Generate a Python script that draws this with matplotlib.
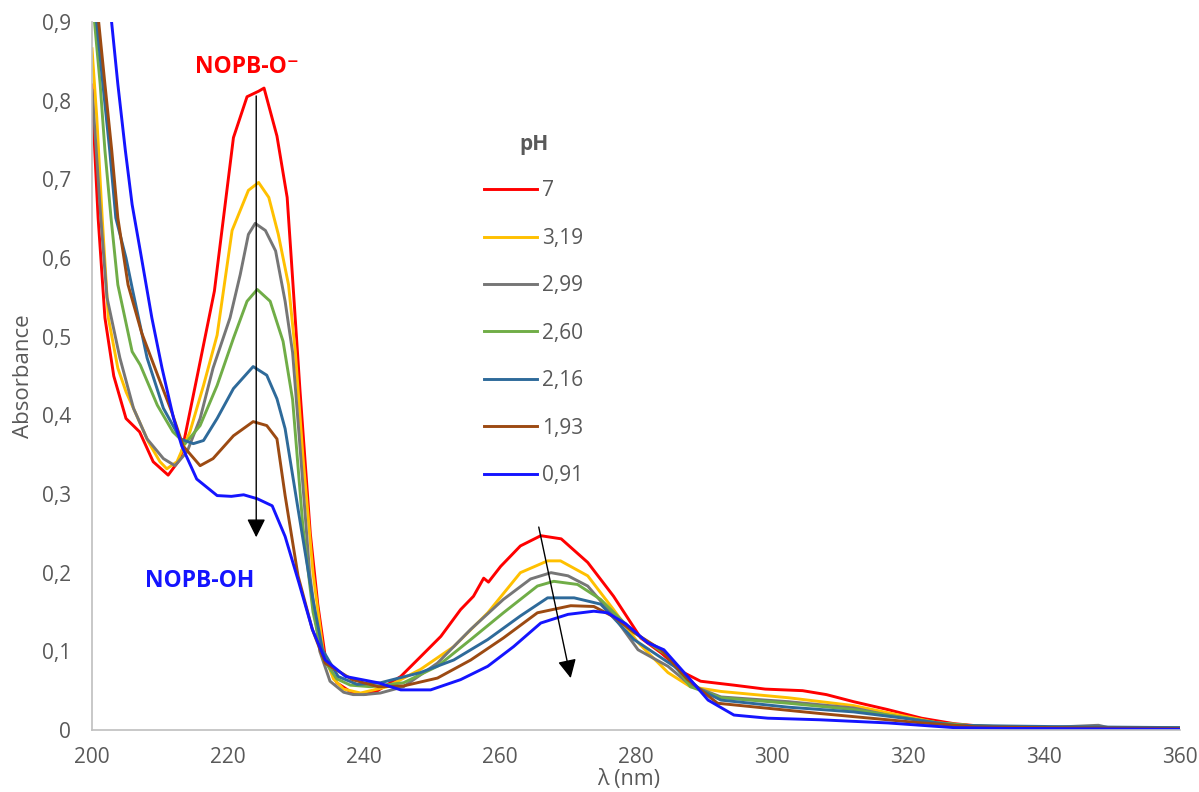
import numpy as np
import matplotlib
matplotlib.use('Agg')
import matplotlib.pyplot as plt
from matplotlib.ticker import FuncFormatter, MultipleLocator

plt.rcParams['font.family'] = ['Open Sans', 'DejaVu Sans']

# pH values of the series (legend order)
ph_labels = ['7', '3,19', '2,99', '2,60', '2,16', '1,93', '0,91']
colors = ['#FF0000', '#FFC000', '#767676', '#70AD47', '#2E6A9A', '#9C4A12', '#1414FF']

# spectra: wavelength (nm) / absorbance
red_wl = [200, 200.4, 200.9, 201.9, 203.2, 205, 207, 209, 211.2, 213, 215.5, 218, 220.8, 222.8,
          224.5, 225.3, 227.2, 228.7, 229.3, 230.6, 232.1, 233.2, 234.3, 236, 238.3, 240, 242,
          245.4, 248.3, 251.3, 254.2, 256.1, 257.6, 258.3, 260.1, 263, 266, 269, 272.9, 276.7,
          280.7, 283.7, 287, 289.5, 294.4, 299, 304.5, 308, 312, 317, 322, 326.8, 331.8, 340, 350, 360]
red_abs = [0.82, 0.737, 0.651, 0.524, 0.45, 0.396, 0.379, 0.341, 0.324, 0.345, 0.451, 0.558, 0.753, 0.805,
           0.812, 0.816, 0.755, 0.677, 0.60, 0.43, 0.25, 0.16, 0.093, 0.06, 0.047, 0.045, 0.05,
           0.068, 0.093, 0.119, 0.153, 0.17, 0.193, 0.188, 0.208, 0.234, 0.247, 0.243, 0.213, 0.17,
           0.117, 0.098, 0.073, 0.062, 0.057, 0.052, 0.05, 0.045, 0.036, 0.026, 0.015, 0.008, 0.004, 0.003, 0.002, 0.002]

yellow_wl = [200, 200.7, 201.5, 202.4, 203.8, 205, 206.3, 208.3, 210, 211, 212.5, 214.4, 216.4, 218.4,
             220.6, 223, 224.5, 226, 227.4, 228.9, 229.9, 231, 232.5, 234, 235.5, 237, 239.5, 243.4,
             248.3, 253.2, 258.2, 263, 267, 268.9, 272.9, 276.7, 280.3, 284.7, 288, 292.5, 302.4,
             312, 317, 324.4, 330, 340, 350, 360]
yellow_abs = [0.866, 0.779, 0.651, 0.524, 0.46, 0.43, 0.405, 0.366, 0.341, 0.332, 0.341, 0.379, 0.438, 0.502,
              0.635, 0.686, 0.696, 0.677, 0.63, 0.566, 0.481, 0.35, 0.2, 0.1, 0.065, 0.052, 0.047, 0.055,
              0.077, 0.106, 0.149, 0.2, 0.215, 0.215, 0.196, 0.153, 0.111, 0.073, 0.055, 0.049, 0.041,
              0.031, 0.022, 0.009, 0.005, 0.003, 0.002, 0.002]

gray_wl = [200, 200.6, 201.3, 202.2, 204.1, 206.1, 208.1, 210.5, 212.2, 214, 215.9, 217.8, 220.3, 221.8,
           223, 224, 225.5, 227, 228.4, 229.5, 230.5, 232, 233.5, 235, 237, 238.4, 240, 242.4, 245.8,
           250.8, 255.7, 260.5, 264.5, 267.5, 270, 272.9, 276.7, 280.3, 284.7, 288, 292.5, 302.4,
           312, 317, 324.4, 330, 340, 348, 350, 360]
gray_abs = [0.813, 0.74, 0.65, 0.55, 0.473, 0.409, 0.37, 0.345, 0.336, 0.354, 0.396, 0.46, 0.524, 0.579,
            0.63, 0.644, 0.635, 0.609, 0.545, 0.48, 0.37, 0.2, 0.1, 0.062, 0.048, 0.045, 0.045, 0.047, 0.055,
            0.085, 0.128, 0.166, 0.192, 0.2, 0.196, 0.183, 0.145, 0.102, 0.081, 0.057, 0.042, 0.036,
            0.028, 0.019, 0.009, 0.005, 0.003, 0.006, 0.002, 0.002]

green_wl = [200, 200.3, 201.2, 201.9, 202.8, 203.8, 205.9, 207.1, 209.6, 211.9, 213.7, 215.9, 218.4, 220.8,
            222.8, 224.3, 226.2, 228.1, 229.5, 231, 232.5, 234, 236, 238, 241, 245.8, 250.8, 255.7,
            260.5, 265.5, 267.9, 271.4, 274.8, 279.7, 284.7, 288, 292.5, 302.4, 312, 317, 324.4,
            330, 340, 350, 360]
green_abs = [0.95, 0.907, 0.821, 0.737, 0.651, 0.566, 0.481, 0.464, 0.413, 0.379, 0.364, 0.387, 0.438, 0.498,
             0.545, 0.56, 0.545, 0.494, 0.42, 0.26, 0.15, 0.09, 0.065, 0.057, 0.055, 0.06, 0.081, 0.115,
             0.149, 0.183, 0.189, 0.185, 0.166, 0.124, 0.094, 0.055, 0.041, 0.034, 0.026, 0.019, 0.009,
             0.005, 0.003, 0.003, 0.003]

dkblue_wl = [200, 200.6, 201.6, 202.6, 203.5, 205, 206, 208.1, 210.5, 213, 214.9, 216.4, 218.4, 220.8,
             223.7, 225.7, 227.2, 228.4, 230.3, 232.4, 233.9, 236.2, 239, 242.4, 248.3, 253.2, 258.2,
             263, 267, 270.9, 274.8, 279.7, 285.6, 289.5, 292.5, 302.4, 312, 319.4, 326.8, 335, 345, 360]
dkblue_abs = [1.0, 0.907, 0.821, 0.737, 0.651, 0.6, 0.558, 0.473, 0.409, 0.37, 0.364, 0.368, 0.396, 0.434,
              0.462, 0.451, 0.421, 0.383, 0.281, 0.17, 0.102, 0.068, 0.058, 0.06, 0.073, 0.089, 0.115,
              0.145, 0.168, 0.168, 0.16, 0.115, 0.081, 0.051, 0.038, 0.029, 0.023, 0.015, 0.006, 0.005, 0.004, 0.003]

brown_wl = [200, 200.9, 201.9, 202.9, 203.8, 205.3, 207.3, 209.7, 211.7, 213.4, 215.9, 217.8, 220.8, 223.7,
            225.7, 227.2, 228.4, 230.3, 232.4, 234.3, 238.3, 242.1, 245.8, 250.8, 255.7, 260.5, 265.5,
            270.4, 273.8, 276.7, 279.7, 283.7, 287.6, 292, 307, 322, 330, 340, 360]
brown_abs = [1.0, 0.907, 0.821, 0.737, 0.651, 0.566, 0.505, 0.45, 0.405, 0.361, 0.336, 0.345, 0.374, 0.392,
             0.387, 0.37, 0.298, 0.196, 0.128, 0.085, 0.064, 0.055, 0.056, 0.066, 0.089, 0.117, 0.149,
             0.158, 0.157, 0.144, 0.124, 0.102, 0.064, 0.034, 0.021, 0.009, 0.004, 0.003, 0.002]

blue_wl = [201.5, 202.8, 203.8, 204.9, 205.9, 207.1, 208.8, 210.3, 212, 213.2, 215.4, 218.4, 220.5, 222.3,
           224.3, 226.5, 228.4, 230.4, 232.4, 234.3, 237.3, 242.1, 245.4, 249.8, 254.2, 258.2, 262, 266,
           270, 273.8, 275.8, 278.5, 281.7, 284.1, 287.6, 290.6, 294.4, 299.4, 307, 317, 326.8, 335, 360]
blue_abs = [1.05, 0.907, 0.821, 0.737, 0.668, 0.609, 0.524, 0.46, 0.396, 0.361, 0.319, 0.298, 0.297, 0.299,
            0.294, 0.285, 0.246, 0.188, 0.128, 0.089, 0.068, 0.06, 0.051, 0.051, 0.064, 0.081, 0.106, 0.136,
            0.147, 0.151, 0.149, 0.135, 0.111, 0.102, 0.068, 0.038, 0.019, 0.015, 0.013, 0.009, 0.003, 0.002, 0.001]

series = [(red_wl, red_abs), (yellow_wl, yellow_abs), (gray_wl, gray_abs), (green_wl, green_abs),
          (dkblue_wl, dkblue_abs), (brown_wl, brown_abs), (blue_wl, blue_abs)]

fig = plt.figure(figsize=(11.99, 7.92), dpi=100)
ax = fig.add_axes([92 / 1199, 62 / 792, (1180 - 92) / 1199, (730 - 22) / 792])

for (wl, ab), lab, c in zip(series, ph_labels, colors):
    ax.plot(wl, ab, color=c, lw=2.1, label=lab, solid_joinstyle='round')

ax.set_xlim(200, 360)
ax.set_ylim(0, 0.9)
ax.xaxis.set_major_locator(MultipleLocator(20))
ax.yaxis.set_major_locator(MultipleLocator(0.1))
ax.yaxis.set_major_formatter(FuncFormatter(lambda v, p: ('%g' % round(v, 1)).replace('.', ',')))
ax.tick_params(length=0, labelsize=15, labelcolor='#595959')
ax.tick_params(axis='x', pad=12)
ax.tick_params(axis='y', pad=15)
for s in ['top', 'right']:
    ax.spines[s].set_visible(False)
for s in ['left', 'bottom']:
    ax.spines[s].set_color('#BFBFBF')
    ax.spines[s].set_linewidth(1.2)

ax.set_xlabel('λ (nm)', fontsize=15.5, color='#595959', va='center')
ax.xaxis.set_label_coords(0.493, -0.0705)
ax.set_ylabel('Absorbance', fontsize=16, color='#595959', va='center')
ax.yaxis.set_label_coords(-0.0625, 0.5)

# arrows showing the evolution with decreasing pH
arrow = dict(arrowstyle='-|>', color='black', lw=1.0, mutation_scale=28, shrinkA=0, shrinkB=0)
ax.annotate('', xy=(224.15, 0.245), xytext=(224.15, 0.806), arrowprops=arrow)
ax.annotate('', xy=(270.4, 0.066), xytext=(265.7, 0.258), arrowprops=arrow)

ax.text(222.8, 0.843, 'NOPB-O⁻', color='#FF0000', fontsize=16.5, fontweight='bold',
        ha='center', va='center')
ax.text(215.8, 0.19, 'NOPB-OH', color='#1414FF', fontsize=16.5, fontweight='bold',
        ha='center', va='center')

leg = ax.legend(title='pH', loc='upper left', bbox_to_anchor=(474 / 1199, 1 - 124 / 792),
                bbox_transform=fig.transFigure, frameon=False, fontsize=15,
                handlelength=2.5, handletextpad=0.25, labelspacing=1.27, borderpad=0)
leg.get_title().set_fontweight('bold')
leg.get_title().set_fontsize(15)
leg.get_title().set_color('#595959')
for t in leg.get_texts():
    t.set_color('#595959')
leg._legend_box.sep = 18

fig.savefig('out.png', dpi=100)
